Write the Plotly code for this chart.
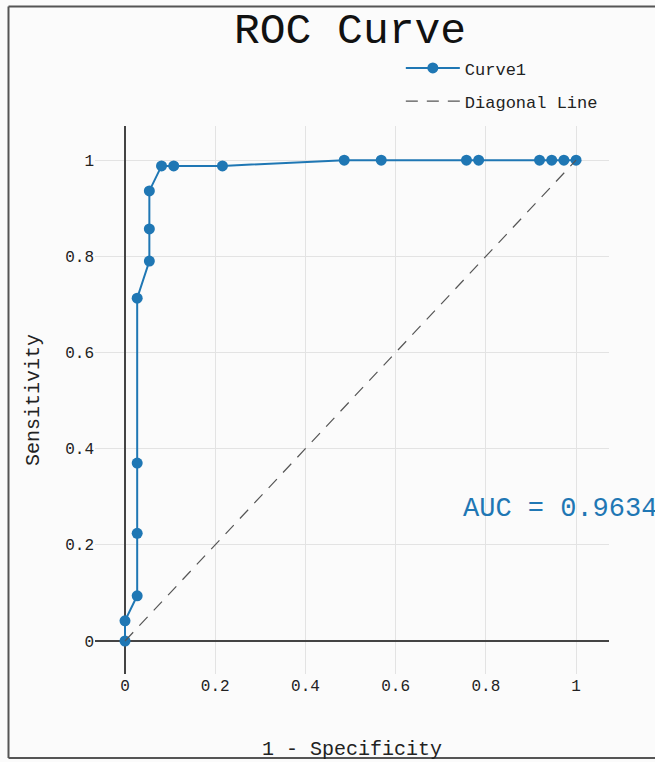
import plotly.graph_objects as go

fpr = [0.0, 0.0, 0.027, 0.027, 0.027, 0.027, 0.054, 0.054, 0.054, 0.081, 0.108,
       0.216, 0.486, 0.568, 0.757, 0.784, 0.919, 0.946, 0.973, 1.0]
tpr = [0.0, 0.042, 0.094, 0.224, 0.370, 0.713, 0.790, 0.857, 0.936, 0.988, 0.988,
       0.988, 1.0, 1.0, 1.0, 1.0, 1.0, 1.0, 1.0, 1.0]
diag_x = [0, 1]
diag_y = [0, 1]
auc_value = 0.9634
tick_vals = [0, 0.2, 0.4, 0.6, 0.8, 1]
tick_text = ["0", "0.2", "0.4", "0.6", "0.8", "1"]

FONT = "Liberation Mono, Courier New, monospace"
BLUE = "#1f77b4"

fig = go.Figure()
fig.add_trace(go.Scatter(
    x=fpr, y=tpr, mode="lines+markers", name="Curve1", legendgroup="a",
    line=dict(color=BLUE, width=2), marker=dict(color=BLUE, size=11),
))
fig.add_trace(go.Scatter(
    x=diag_x, y=diag_y, mode="lines", name="Diagonal Line", legendgroup="b",
    line=dict(color="#555555", width=1.2, dash="12px,9px"),
))

fig.add_annotation(
    x=0.745, y=0.274, xref="x", yref="y", text=f"AUC = {auc_value}",
    showarrow=False, xanchor="left", yanchor="middle",
    font=dict(family=FONT, size=27, color=BLUE),
)

# frame: left, top, bottom edges (no right edge in the reference)
BX0, BX1, BY0, BY1 = -0.1683, 1.3, -0.1533, 1.218
for (x0, y0, x1, y1) in [(BX0, BY0, BX0, BY1), (BX0, BY1, BX1, BY1), (BX0, BY0, BX1, BY0)]:
    fig.add_shape(type="line", xref="paper", yref="paper", x0=x0, y0=y0, x1=x1, y1=y1,
                  line=dict(color="#555555", width=2), layer="above")

fig.update_layout(
    width=655, height=762,
    margin=dict(l=95, r=46, t=126, b=88),
    paper_bgcolor="#fbfbfb", plot_bgcolor="#fbfbfb",
    font=dict(family=FONT, size=16, color="#222222"),
    title=dict(text="ROC Curve", x=(350 - 95) / 514, xanchor="center", xref="paper",
               y=0.9633, yanchor="middle",
               font=dict(family=FONT, size=43, color="#111111")),
    legend=dict(x=0.595, y=1.138, xanchor="left", yanchor="top",
                font=dict(family=FONT, size=17, color="#222222"),
                bgcolor="rgba(0,0,0,0)", tracegroupgap=8, traceorder="grouped",
                itemwidth=54),
    xaxis=dict(range=[-0.0665, 1.073], tickvals=tick_vals, ticktext=tick_text,
               showgrid=True, gridcolor="#e3e3e3", gridwidth=1,
               zeroline=True, zerolinecolor="#444444", zerolinewidth=2,
               showline=False, ticks="", tickfont=dict(size=16), automargin=False,
               title=dict(text="1 - Specificity", font=dict(size=20), standoff=45)),
    yaxis=dict(range=[-0.0686, 1.071], tickvals=tick_vals, ticktext=tick_text,
               showgrid=True, gridcolor="#e3e3e3", gridwidth=1,
               zeroline=True, zerolinecolor="#444444", zerolinewidth=2,
               showline=False, ticks="", tickfont=dict(size=16), automargin=False,
               title=dict(text="Sensitivity", font=dict(size=20), standoff=20)),
)

fig.write_html(
    "out.html",
    config={"displayModeBar": False},
    post_script="document.body.style.margin='0';"
                "document.documentElement.style.overflow='hidden';"
                "document.body.style.overflow='hidden';",
)
